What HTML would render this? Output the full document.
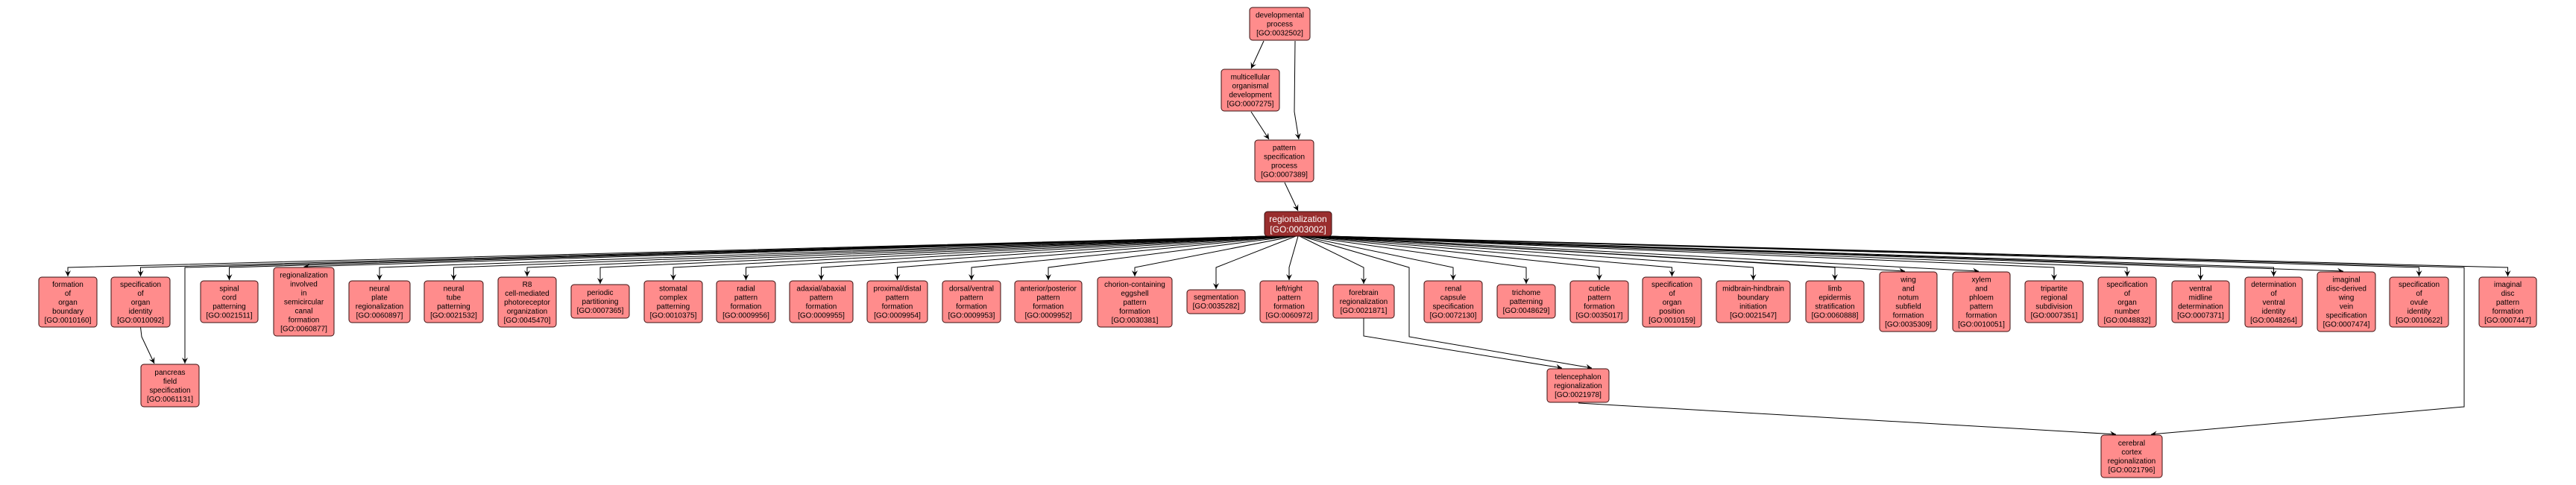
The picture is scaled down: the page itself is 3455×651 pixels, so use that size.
<!DOCTYPE html>
<html><head><meta charset="utf-8"><style>
html,body{margin:0;padding:0;background:#fff;}
svg{display:block;}
text{font-family:"Liberation Sans",Arial,sans-serif;font-size:10px;fill:#000;text-anchor:middle;}
.n{fill:#ff8c8c;stroke:#3a1010;stroke-width:1;}
.d{fill:#992e2e;stroke:#3a1010;stroke-width:1;}
.w{fill:#fff;font-size:12px;}
path.e{fill:none;stroke:#000;stroke-width:1;marker-end:url(#a);}
</style></head><body>
<svg width="3455" height="651" viewBox="0 0 3455 651" xmlns="http://www.w3.org/2000/svg">
<defs><marker id="a" markerWidth="10" markerHeight="10" refX="8" refY="4" orient="auto" markerUnits="userSpaceOnUse"><path d="M0,0 L8,4 L0,8 L3,4 z" fill="#000"/></marker></defs>
<g>
<path class="e" d="M1695,55 L1678,92"/>
<path class="e" d="M1737,55 L1736,150 L1742,187"/>
<path class="e" d="M1678,150 L1702,187"/>
<path class="e" d="M1723,245 L1741,283"/>
<path class="e" d="M1700,317 L91,359 L91,371"/>
<path class="e" d="M1702,317 L188.5,359 L188.5,371"/>
<path class="e" d="M1705,317 L307.5,359 L307.5,376"/>
<path class="e" d="M1708,317 L407.5,358"/>
<path class="e" d="M1710,317 L509,359 L509,376"/>
<path class="e" d="M1713,317 L608.5,359 L608.5,376"/>
<path class="e" d="M1715,317 L707,359 L707,371"/>
<path class="e" d="M1718,317 L805,359 L805,381"/>
<path class="e" d="M1720,317 L903,359 L903,376"/>
<path class="e" d="M1722,317 L1000.5,359 L1000.5,376"/>
<path class="e" d="M1725,317 L1101.5,359 L1101.5,376"/>
<path class="e" d="M1728,317 L1203.5,359 L1203.5,376"/>
<path class="e" d="M1730,317 L1303,359 L1303,376"/>
<path class="e" d="M1733,317 L1406,359 L1406,376"/>
<path class="e" d="M1736,317 L1522,359 L1522,371"/>
<path class="e" d="M1738,317 L1631,359 L1631,388"/>
<path class="e" d="M1741,317 L1729,359 L1729,376"/>
<path class="e" d="M1743,317 L1829,359 L1829,381"/>
<path class="e" d="M1746,317 L1949,359 L1949,376"/>
<path class="e" d="M1749,317 L2047,359 L2047,381"/>
<path class="e" d="M1751,317 L2145,359 L2145,376"/>
<path class="e" d="M1754,317 L2242.5,359 L2242.5,371"/>
<path class="e" d="M1756,317 L2351.5,359 L2351.5,376"/>
<path class="e" d="M1759,317 L2461,359 L2461,376"/>
<path class="e" d="M1761,317 L2555,364"/>
<path class="e" d="M1764,317 L2654,364"/>
<path class="e" d="M1766,317 L2755,359 L2755,376"/>
<path class="e" d="M1769,317 L2853,359 L2853,371"/>
<path class="e" d="M1771,317 L2951.5,359 L2951.5,376"/>
<path class="e" d="M1774,317 L3049.5,359 L3049.5,371"/>
<path class="e" d="M1776,317 L3143,364"/>
<path class="e" d="M1779,317 L3244.5,359 L3244.5,371"/>
<path class="e" d="M1782,317 L3363.5,359 L3363.5,371"/>
<path class="e" d="M1704,317 L248,359 L248,488"/>
<path class="e" d="M188.5,439 L190,452 L207,488"/>
<path class="e" d="M1745,317 L1890,359 L1890,452 L2135,494"/>
<path class="e" d="M1829,427 L1829,451 L2095,494"/>
<path class="e" d="M1780,317 L3305,359 L3305,546 L2885,583"/>
<path class="e" d="M2117,541 L2838,583"/>
</g>
<g>
<rect class="n" x="1676" y="10" width="81" height="44" rx="4"/><text x="1716.5" y="23.5">developmental</text><text x="1716.5" y="35.5">process</text><text x="1716.5" y="47.5">[GO:0032502]</text>
<rect class="n" x="1638" y="93" width="78" height="56" rx="4"/><text x="1677" y="106.5">multicellular</text><text x="1677" y="118.5">organismal</text><text x="1677" y="130.5">development</text><text x="1677" y="142.5">[GO:0007275]</text>
<rect class="n" x="1683" y="188" width="79" height="56" rx="4"/><text x="1722.5" y="201.5">pattern</text><text x="1722.5" y="213.5">specification</text><text x="1722.5" y="225.5">process</text><text x="1722.5" y="237.5">[GO:0007389]</text>
<rect class="d" x="1696" y="284" width="90" height="33" rx="4"/><text class="w" x="1741" y="298">regionalization</text><text class="w" x="1741" y="312">[GO:0003002]</text>

<rect class="n" x="52" y="372" width="78" height="67" rx="4"/><text x="91" y="385">formation</text><text x="91" y="397">of</text><text x="91" y="409">organ</text><text x="91" y="421">boundary</text><text x="91" y="433">[GO:0010160]</text>
<rect class="n" x="149" y="372" width="79" height="67" rx="4"/><text x="188.5" y="385">specification</text><text x="188.5" y="397">of</text><text x="188.5" y="409">organ</text><text x="188.5" y="421">identity</text><text x="188.5" y="433">[GO:0010092]</text>
<rect class="n" x="269" y="377" width="77" height="56" rx="4"/><text x="307.5" y="390.5">spinal</text><text x="307.5" y="402.5">cord</text><text x="307.5" y="414.5">patterning</text><text x="307.5" y="426.5">[GO:0021511]</text>
<rect class="n" x="367" y="359" width="81" height="92" rx="4"/><text x="407.5" y="372.5">regionalization</text><text x="407.5" y="384.5">involved</text><text x="407.5" y="396.5">in</text><text x="407.5" y="408.5">semicircular</text><text x="407.5" y="420.5">canal</text><text x="407.5" y="432.5">formation</text><text x="407.5" y="444.5">[GO:0060877]</text>
<rect class="n" x="468" y="377" width="82" height="56" rx="4"/><text x="509" y="390.5">neural</text><text x="509" y="402.5">plate</text><text x="509" y="414.5">regionalization</text><text x="509" y="426.5">[GO:0060897]</text>
<rect class="n" x="569" y="377" width="79" height="56" rx="4"/><text x="608.5" y="390.5">neural</text><text x="608.5" y="402.5">tube</text><text x="608.5" y="414.5">patterning</text><text x="608.5" y="426.5">[GO:0021532]</text>
<rect class="n" x="668" y="372" width="78" height="67" rx="4"/><text x="707" y="385">R8</text><text x="707" y="397">cell-mediated</text><text x="707" y="409">photoreceptor</text><text x="707" y="421">organization</text><text x="707" y="433">[GO:0045470]</text>
<rect class="n" x="766" y="382" width="78" height="45" rx="4"/><text x="805" y="396">periodic</text><text x="805" y="408">partitioning</text><text x="805" y="420">[GO:0007365]</text>
<rect class="n" x="864" y="377" width="78" height="56" rx="4"/><text x="903" y="390.5">stomatal</text><text x="903" y="402.5">complex</text><text x="903" y="414.5">patterning</text><text x="903" y="426.5">[GO:0010375]</text>
<rect class="n" x="961" y="377" width="79" height="56" rx="4"/><text x="1000.5" y="390.5">radial</text><text x="1000.5" y="402.5">pattern</text><text x="1000.5" y="414.5">formation</text><text x="1000.5" y="426.5">[GO:0009956]</text>
<rect class="n" x="1059" y="377" width="85" height="56" rx="4"/><text x="1101.5" y="390.5">adaxial/abaxial</text><text x="1101.5" y="402.5">pattern</text><text x="1101.5" y="414.5">formation</text><text x="1101.5" y="426.5">[GO:0009955]</text>
<rect class="n" x="1163" y="377" width="81" height="56" rx="4"/><text x="1203.5" y="390.5">proximal/distal</text><text x="1203.5" y="402.5">pattern</text><text x="1203.5" y="414.5">formation</text><text x="1203.5" y="426.5">[GO:0009954]</text>
<rect class="n" x="1264" y="377" width="78" height="56" rx="4"/><text x="1303" y="390.5">dorsal/ventral</text><text x="1303" y="402.5">pattern</text><text x="1303" y="414.5">formation</text><text x="1303" y="426.5">[GO:0009953]</text>
<rect class="n" x="1361" y="377" width="90" height="56" rx="4"/><text x="1406" y="390.5">anterior/posterior</text><text x="1406" y="402.5">pattern</text><text x="1406" y="414.5">formation</text><text x="1406" y="426.5">[GO:0009952]</text>
<rect class="n" x="1472" y="372" width="100" height="67" rx="4"/><text x="1522" y="385">chorion-containing</text><text x="1522" y="397">eggshell</text><text x="1522" y="409">pattern</text><text x="1522" y="421">formation</text><text x="1522" y="433">[GO:0030381]</text>
<rect class="n" x="1592" y="389" width="78" height="32" rx="4"/><text x="1631" y="402">segmentation</text><text x="1631" y="414">[GO:0035282]</text>
<rect class="n" x="1690" y="377" width="78" height="56" rx="4"/><text x="1729" y="390.5">left/right</text><text x="1729" y="402.5">pattern</text><text x="1729" y="414.5">formation</text><text x="1729" y="426.5">[GO:0060972]</text>
<rect class="n" x="1788" y="382" width="82" height="45" rx="4"/><text x="1829" y="396">forebrain</text><text x="1829" y="408">regionalization</text><text x="1829" y="420">[GO:0021871]</text>
<rect class="n" x="1910" y="377" width="78" height="56" rx="4"/><text x="1949" y="390.5">renal</text><text x="1949" y="402.5">capsule</text><text x="1949" y="414.5">specification</text><text x="1949" y="426.5">[GO:0072130]</text>
<rect class="n" x="2008" y="382" width="78" height="45" rx="4"/><text x="2047" y="396">trichome</text><text x="2047" y="408">patterning</text><text x="2047" y="420">[GO:0048629]</text>
<rect class="n" x="2106" y="377" width="78" height="56" rx="4"/><text x="2145" y="390.5">cuticle</text><text x="2145" y="402.5">pattern</text><text x="2145" y="414.5">formation</text><text x="2145" y="426.5">[GO:0035017]</text>
<rect class="n" x="2203" y="372" width="79" height="67" rx="4"/><text x="2242.5" y="385">specification</text><text x="2242.5" y="397">of</text><text x="2242.5" y="409">organ</text><text x="2242.5" y="421">position</text><text x="2242.5" y="433">[GO:0010159]</text>
<rect class="n" x="2302" y="377" width="99" height="56" rx="4"/><text x="2351.5" y="390.5">midbrain-hindbrain</text><text x="2351.5" y="402.5">boundary</text><text x="2351.5" y="414.5">initiation</text><text x="2351.5" y="426.5">[GO:0021547]</text>
<rect class="n" x="2422" y="377" width="78" height="56" rx="4"/><text x="2461" y="390.5">limb</text><text x="2461" y="402.5">epidermis</text><text x="2461" y="414.5">stratification</text><text x="2461" y="426.5">[GO:0060888]</text>
<rect class="n" x="2521" y="365" width="77" height="80" rx="4"/><text x="2559.5" y="378.5">wing</text><text x="2559.5" y="390.5">and</text><text x="2559.5" y="402.5">notum</text><text x="2559.5" y="414.5">subfield</text><text x="2559.5" y="426.5">formation</text><text x="2559.5" y="438.5">[GO:0035309]</text>
<rect class="n" x="2619" y="365" width="77" height="80" rx="4"/><text x="2657.5" y="378.5">xylem</text><text x="2657.5" y="390.5">and</text><text x="2657.5" y="402.5">phloem</text><text x="2657.5" y="414.5">pattern</text><text x="2657.5" y="426.5">formation</text><text x="2657.5" y="438.5">[GO:0010051]</text>
<rect class="n" x="2716" y="377" width="78" height="56" rx="4"/><text x="2755" y="390.5">tripartite</text><text x="2755" y="402.5">regional</text><text x="2755" y="414.5">subdivision</text><text x="2755" y="426.5">[GO:0007351]</text>
<rect class="n" x="2814" y="372" width="78" height="67" rx="4"/><text x="2853" y="385">specification</text><text x="2853" y="397">of</text><text x="2853" y="409">organ</text><text x="2853" y="421">number</text><text x="2853" y="433">[GO:0048832]</text>
<rect class="n" x="2913" y="377" width="77" height="56" rx="4"/><text x="2951.5" y="390.5">ventral</text><text x="2951.5" y="402.5">midline</text><text x="2951.5" y="414.5">determination</text><text x="2951.5" y="426.5">[GO:0007371]</text>
<rect class="n" x="3011" y="372" width="77" height="67" rx="4"/><text x="3049.5" y="385">determination</text><text x="3049.5" y="397">of</text><text x="3049.5" y="409">ventral</text><text x="3049.5" y="421">identity</text><text x="3049.5" y="433">[GO:0048264]</text>
<rect class="n" x="3108" y="365" width="78" height="80" rx="4"/><text x="3147" y="378.5">imaginal</text><text x="3147" y="390.5">disc-derived</text><text x="3147" y="402.5">wing</text><text x="3147" y="414.5">vein</text><text x="3147" y="426.5">specification</text><text x="3147" y="438.5">[GO:0007474]</text>
<rect class="n" x="3205" y="372" width="79" height="67" rx="4"/><text x="3244.5" y="385">specification</text><text x="3244.5" y="397">of</text><text x="3244.5" y="409">ovule</text><text x="3244.5" y="421">identity</text><text x="3244.5" y="433">[GO:0010622]</text>
<rect class="n" x="3325" y="372" width="77" height="67" rx="4"/><text x="3363.5" y="385">imaginal</text><text x="3363.5" y="397">disc</text><text x="3363.5" y="409">pattern</text><text x="3363.5" y="421">formation</text><text x="3363.5" y="433">[GO:0007447]</text>

<rect class="n" x="189" y="489" width="78" height="57" rx="4"/><text x="228" y="503">pancreas</text><text x="228" y="515">field</text><text x="228" y="527">specification</text><text x="228" y="539">[GO:0061131]</text>
<rect class="n" x="2075" y="495" width="83" height="45" rx="4"/><text x="2116.5" y="509">telencephalon</text><text x="2116.5" y="521">regionalization</text><text x="2116.5" y="533">[GO:0021978]</text>
<rect class="n" x="2818" y="584" width="82" height="57" rx="4"/><text x="2859" y="598">cerebral</text><text x="2859" y="610">cortex</text><text x="2859" y="622">regionalization</text><text x="2859" y="634">[GO:0021796]</text>
</g>
</svg>
</body></html>
